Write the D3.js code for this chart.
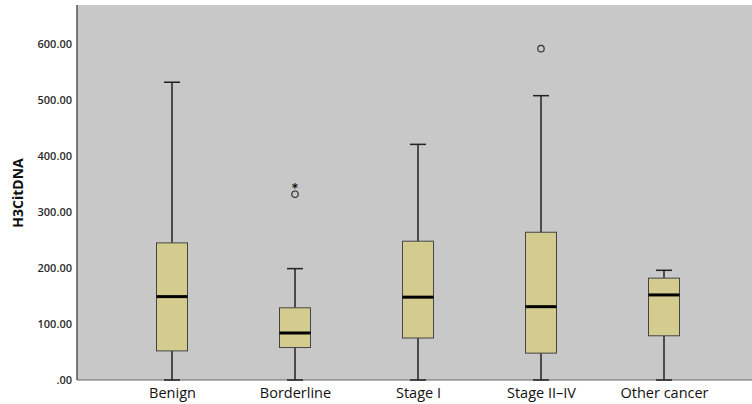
<!DOCTYPE html>
<html><head><meta charset="utf-8">
<script src="https://cdn.jsdelivr.net/npm/d3@7"></script>
<style>body{margin:0;background:#fff}svg{display:block}</style>
</head><body>
<svg id="c" width="752" height="404"></svg>
<script>
const categories = ["Benign","Borderline","Stage I","Stage II–IV","Other cancer"];
const whiskerLow = [0, 0, 0, 0, 0];
const q1 = [52, 58, 75, 48, 79];
const median = [149, 84, 148, 131, 152];
const q3 = [245, 129, 248, 264, 182];
const whiskerHigh = [532, 199, 421, 508, 196];
const outlierCircles = [{cat:"Borderline", v:332},{cat:"Stage II–IV", v:592}];
const outlierStars = [{cat:"Borderline", v:348}];
const yTicks = [0,100,200,300,400,500,600];

const svg = d3.select("#c");
const mLeft = 77, mRight = 752, mTop = 5, mBottom = 380;
const y = d3.scaleLinear().domain([0, 670]).range([mBottom, mTop]);
const x = d3.scalePoint().domain(categories).range([172, 664]);
const boxW = 31;

svg.append("rect").attr("x", mLeft).attr("y", mTop).attr("width", mRight-mLeft).attr("height", mBottom-mTop).attr("fill", "#c8c8c8");

const yAxis = d3.axisLeft(y).tickValues(yTicks).tickSize(0).tickPadding(5)
  .tickFormat(d => d===0 ? ".00" : d3.format(".2f")(d));
const ga = svg.append("g").attr("transform", `translate(${mLeft},0)`).call(yAxis);
ga.select(".domain").remove();
ga.attr("color","#222");
ga.selectAll("text").attr("font-family","'Open Sans', sans-serif").attr("font-size",11).attr("font-weight",600).attr("fill","#2a2a2a");

svg.append("line").attr("x1",mLeft).attr("x2",mLeft).attr("y1",mTop).attr("y2",mBottom).attr("stroke","#555").attr("stroke-width",1.5);
svg.append("line").attr("x1",mLeft).attr("x2",mRight).attr("y1",mBottom).attr("y2",mBottom).attr("stroke","#666").attr("stroke-width",1);

const xAxis = d3.axisBottom(x).tickSize(0).tickPadding(8);
const gx = svg.append("g").attr("transform", `translate(0,${mBottom})`).call(xAxis);
gx.select(".domain").remove();
gx.attr("color","#111");
gx.selectAll("text").attr("font-family","'Open Sans', sans-serif").attr("font-size",14.5).attr("font-weight",500).attr("fill","#111");

svg.append("text").attr("transform","translate(23,193) rotate(-90)").attr("text-anchor","middle")
  .attr("font-family","'Open Sans', sans-serif").attr("font-weight","bold").attr("font-size",14).attr("fill","#111").text("H3CitDNA");

const g = svg.append("g");
categories.forEach((c,i) => {
  const cx = x(c);
  g.append("line").attr("x1",cx).attr("x2",cx).attr("y1",y(whiskerHigh[i])).attr("y2",y(q3[i])).attr("stroke","#222").attr("stroke-width",1.5);
  g.append("line").attr("x1",cx).attr("x2",cx).attr("y1",y(q1[i])).attr("y2",y(whiskerLow[i])).attr("stroke","#222").attr("stroke-width",1.5);
  [whiskerHigh[i], whiskerLow[i]].forEach(v => {
    g.append("line").attr("x1",cx-8).attr("x2",cx+8).attr("y1",y(v)).attr("y2",y(v)).attr("stroke","#222").attr("stroke-width",1.5);
  });
  g.append("rect").attr("x",cx-boxW/2).attr("width",boxW).attr("y",y(q3[i])).attr("height",y(q1[i])-y(q3[i]))
    .attr("fill","#d3cc8e").attr("stroke","#444").attr("stroke-width",1);
  g.append("line").attr("x1",cx-boxW/2).attr("x2",cx+boxW/2).attr("y1",y(median[i])).attr("y2",y(median[i])).attr("stroke","#000").attr("stroke-width",3);
});
outlierCircles.forEach(o => {
  g.append("circle").attr("cx",x(o.cat)).attr("cy",y(o.v)).attr("r",3.2).attr("fill","none").attr("stroke","#333").attr("stroke-width",1.2);
});
outlierStars.forEach(o => {
  g.append("text").attr("x",x(o.cat)).attr("y",y(o.v)+7).attr("text-anchor","middle")
    .attr("font-family","'DejaVu Sans', sans-serif").attr("font-weight","bold").attr("font-size",12).attr("fill","#111").text("*");
});
</script>
</body></html>
